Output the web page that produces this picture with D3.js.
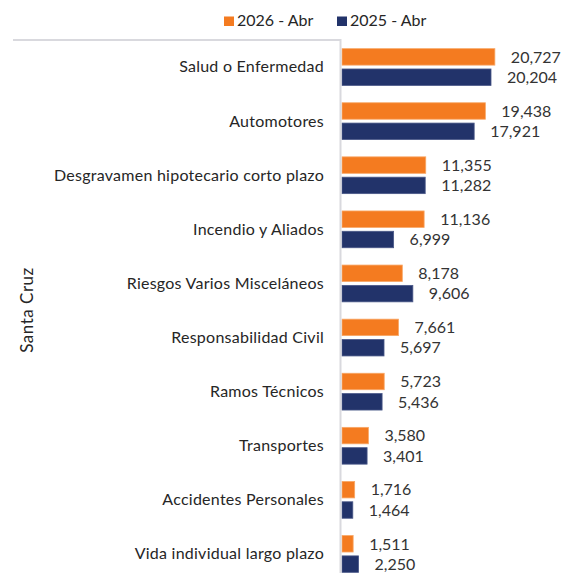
<!DOCTYPE html>
<html>
<head>
<meta charset="utf-8">
<script src="https://cdn.jsdelivr.net/npm/d3@7"></script>
<style>
  body { margin: 0; background: #fff; }
  svg { display: block; font-family: Lato, "Open Sans", sans-serif; }
</style>
</head>
<body>
<svg id="vis" width="561" height="573"></svg>
<script>
// categories top to bottom
let categories = [
    "Salud o Enfermedad",
    "Automotores",
    "Desgravamen hipotecario corto plazo",
    "Incendio y Aliados",
    "Riesgos Varios Misceláneos",
    "Responsabilidad Civil",
    "Ramos Técnicos",
    "Transportes",
    "Accidentes Personales",
    "Vida individual largo plazo"
];
let series = ["2026 - Abr", "2025 - Abr"];
let values2026 = [20727, 19438, 11355, 11136, 8178, 7661, 5723, 3580, 1716, 1511];
let values2025 = [20204, 17921, 11282, 6999, 9606, 5697, 5436, 3401, 1464, 2250];
let groupLabel = "Santa Cruz";

let colors = ["#F47B20", "#22336A"];

let svg = d3.select("#vis");

let x = d3.scaleLinear()
    .domain([0, 24000])
    .range([342, 519]);

let y = d3.scaleBand()
    .domain(categories)
    .range([40, 581])
    .paddingInner(0.32)
    .paddingOuter(0.16);

let ySub = d3.scaleBand()
    .domain(series)
    .range([0, y.bandwidth()])
    .paddingInner(0.19);

let color = d3.scaleOrdinal()
    .domain(series)
    .range(colors);

let fmt = d3.format(",");

let rows = categories.map(function (c, i) {
    return {cat: c, vals: [
        {s: series[0], v: values2026[i]},
        {s: series[1], v: values2025[i]}
    ]};
});

// frame line on top
svg.append("line")
    .attr("x1", 13).attr("x2", 341)
    .attr("y1", 40).attr("y2", 40)
    .attr("stroke", "#d9d9de")
    .attr("stroke-width", 2);

// bars
let groups = svg.selectAll("g.cat")
    .data(rows)
    .enter()
    .append("g")
    .attr("class", "cat")
    .attr("transform", d => "translate(0," + y(d.cat) + ")");

groups.selectAll("rect")
    .data(d => d.vals)
    .enter()
    .append("rect")
    .attr("x", x(0))
    .attr("y", d => ySub(d.s))
    .attr("width", d => x(d.v) - x(0))
    .attr("height", ySub.bandwidth())
    .attr("fill", d => color(d.s))
    .attr("stroke", d => d.s === series[0] ? "#f8a766" : "#4a5888")
    .attr("stroke-width", 0.8);

groups.selectAll("text.val")
    .data(d => d.vals)
    .enter()
    .append("text")
    .attr("class", "val")
    .attr("x", d => x(d.v) + 16)
    .attr("y", d => ySub(d.s) + ySub.bandwidth() / 2)
    .attr("dy", "0.36em")
    .attr("font-size", "16px")
    .attr("fill", "#333")
    .text(d => fmt(d.v));

// category labels
svg.selectAll("text.cat")
    .data(categories)
    .enter()
    .append("text")
    .attr("class", "cat")
    .attr("x", 324)
    .attr("y", d => y(d) + y.bandwidth() / 2)
    .attr("dy", "0.34em")
    .attr("text-anchor", "end")
    .attr("font-size", "16px")
    .attr("letter-spacing", "0.25px")
    .attr("fill", "#262626")
    .text(d => d);

// axis line
svg.append("line")
    .attr("x1", 340.5).attr("x2", 340.5)
    .attr("y1", 39).attr("y2", 573)
    .attr("stroke", "#d9d9de")
    .attr("stroke-width", 2);

// group label
svg.append("text")
    .attr("transform", "translate(33,310) rotate(-90)")
    .attr("text-anchor", "middle")
    .attr("font-size", "17px")
    .attr("letter-spacing", "0.5px")
    .attr("fill", "#262626")
    .text(groupLabel);

// legend
let legendX = [224, 337];
let legend = svg.selectAll("g.legend")
    .data(series)
    .enter()
    .append("g")
    .attr("class", "legend")
    .attr("transform", (d, i) => "translate(" + legendX[i] + ",0)");

legend.append("rect")
    .attr("x", 0).attr("y", 16.5)
    .attr("width", 10).attr("height", 9.5)
    .attr("fill", d => color(d));

legend.append("text")
    .attr("x", 13)
    .attr("y", 26)
    .attr("font-size", "16px")
    .attr("fill", "#262626")
    .text(d => d);
</script>
</body>
</html>
